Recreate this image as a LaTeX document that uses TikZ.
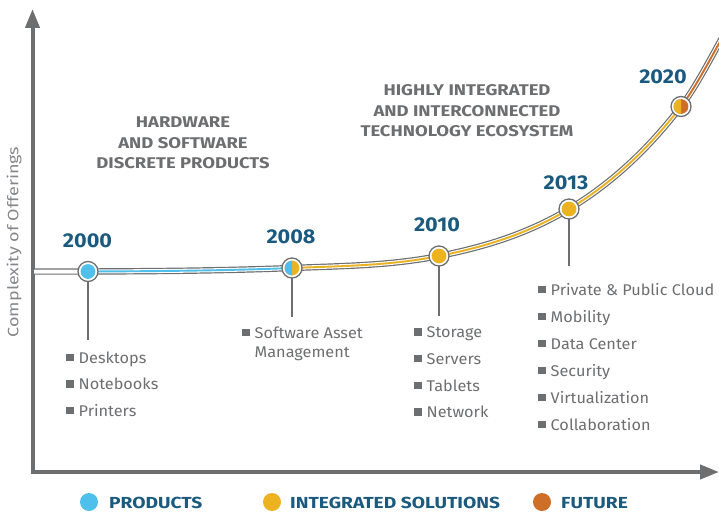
\documentclass[tikz,border=0pt]{standalone}
\usepackage{fontspec}
\setmainfont{Fira Sans}
\newfontfamily\itemfont[FakeStretch=1.05]{Fira Sans}
\newfontfamily\headfont[FakeStretch=1.19]{Fira Sans}
\newfontfamily\legfont[FakeStretch=1.2]{Fira Sans}
\newfontfamily\yearfont[FakeStretch=1.08]{Fira Sans}
\newfontfamily\ylabfont[FakeStretch=1.2]{Fira Sans}
\usetikzlibrary{arrows.meta}
\definecolor{lgray}{HTML}{6D6E70}
\definecolor{tgray}{HTML}{6D6E70}
\definecolor{ygray}{HTML}{858689}
\definecolor{dblue}{HTML}{1B5A7F}
\definecolor{pblue}{HTML}{4FC0EC}
\definecolor{iyel}{HTML}{ECB21F}
\definecolor{forange}{HTML}{CE6E27}
\newcommand\bsq{{\color{lgray}\raisebox{1.8pt}{\rule{7.5pt}{7.5pt}}}\hspace{5pt}}
\begin{document}
\begin{tikzpicture}[x=1pt,y=-1pt,
  axisline/.style={draw=lgray, line width=4pt, line join=miter,
     {Triangle[width=14pt,length=19pt]}-{Triangle[width=14pt,length=19pt]}},
  outer/.style={draw=lgray, line width=6.4pt},
  inner/.style={draw=white, line width=4pt},
  core/.style={line width=1.9pt},
  ringnode/.style={circle, draw=lgray, line width=1.3pt, fill=white, minimum size=20pt, inner sep=0pt},
  drop/.style={draw=lgray, line width=1.3pt},
  year/.style={font=\yearfont\fontsize{20}{20}\selectfont\bfseries, text=dblue, anchor=base, inner sep=0pt},
  head/.style={font=\headfont\fontsize{15.5}{20.3}\selectfont\bfseries, text=tgray, align=center, anchor=north, inner sep=0pt},
  item/.style={font=\itemfont\fontsize{15.5}{19.5}\selectfont, text=tgray, anchor=base west, inner sep=0pt, align=left},
  legdot/.style={circle, minimum size=18pt, inner sep=0pt},
  legtext/.style={font=\legfont\fontsize{16}{16}\selectfont\bfseries, text=dblue, anchor=base west, inner sep=0pt}
]
\useasboundingbox (0,0) rectangle (719,511);

% axes
\coordinate (ytop) at (32.5,9);
\coordinate (orig) at (32.5,472);
\coordinate (xend) at (719,472);
\draw[axisline] (ytop) -- (orig) -- (xend);
\node[rotate=90, font=\ylabfont\fontsize{15}{15}\selectfont, text=ygray, inner sep=0pt] (ylab) at (14,242) {Complexity of Offerings};

% curve points
\coordinate (c0) at (34,271.5);
\coordinate (p2000) at (88,271.5);
\coordinate (p2008) at (292,268);
\coordinate (p2010) at (439,256);
\coordinate (p2013) at (569,209);
\coordinate (p2020) at (681,106.5);
\coordinate (cend) at (722,38);

\foreach \st in {outer,inner}{
\draw[\st] (c0) -- (p2000)
  .. controls (156,271.2) and (224,270.7) .. (p2008)
  .. controls (341,266.0) and (390,265.8) .. (p2010)
  .. controls (482.3,247.3) and (525.7,235) .. (p2013)
  .. controls (606.3,186.6) and (643.7,155) .. (p2020)
  .. controls (694.7,88.7) and (708.3,62.6) .. (cend);
}
\draw[core, pblue] (p2000) .. controls (156,271.2) and (224,270.7) .. (p2008);
\draw[core, iyel] (p2008)
  .. controls (341,266.0) and (390,265.8) .. (p2010)
  .. controls (482.3,247.3) and (525.7,235) .. (p2013)
  .. controls (606.3,186.6) and (643.7,155) .. (p2020);
\draw[core, forange] (p2020) .. controls (694.7,88.7) and (708.3,62.6) .. (cend);

% drop lines
\coordinate (d2000) at (88,340);
\coordinate (d2008) at (292,317);
\coordinate (d2010) at (439,316);
\coordinate (d2013) at (569,266);
\draw[drop] (p2000) -- (d2000);
\draw[drop] (p2008) -- (d2008);
\draw[drop] (p2010) -- (d2010);
\draw[drop] (p2013) -- (d2013);

% milestone nodes
\node[ringnode] (n2000) at (p2000) {};
\node[ringnode] (n2008) at (p2008) {};
\node[ringnode] (n2010) at (p2010) {};
\node[ringnode] (n2013) at (p2013) {};
\node[ringnode] (n2020) at (p2020) {};
\fill[pblue] (n2000.center) circle (7.4);
\fill[iyel] (n2008.center) circle (7.4);
\fill[pblue] (n2008.center) ++(0,7.4) arc[start angle=90,end angle=270,radius=7.4] -- cycle;
\fill[iyel] (n2010.center) circle (7.4);
\fill[iyel] (n2013.center) circle (7.4);
\fill[forange] (n2020.center) circle (7.4);
\fill[iyel] (n2020.center) ++(0,7.4) arc[start angle=90,end angle=270,radius=7.4] -- cycle;

% years
\node[year] (y2000) at (87.5,247) {2000};
\node[year] (y2008) at (291,243.5) {2008};
\node[year] (y2010) at (437,231) {2010};
\node[year] (y2013) at (566,189) {2013};
\node[year] (y2020) at (663,83.5) {2020};

% headings
\node[head] (h1) at (183,117) {HARDWARE\\AND SOFTWARE\\DISCRETE PRODUCTS};
\node[head] (h2) at (467,84.5) {HIGHLY INTEGRATED\\AND INTERCONNECTED\\TECHNOLOGY ECOSYSTEM};

% lists
\node[item] (a1) at (66,363) {\bsq Desktops};
\node[item] (a2) at (66,389.5) {\bsq Notebooks};
\node[item] (a3) at (66,416) {\bsq Printers};

\node[item] (b1) at (242,357.7) {\bsq Software Asset\\\hspace{12.5pt}Management};

\node[item] (c1) at (414,337.5) {\bsq Storage};
\node[item] (c2) at (414,364) {\bsq Servers};
\node[item] (c3) at (414,391) {\bsq Tablets};
\node[item] (c4) at (414,417.5) {\bsq Network};

\node[item] (e1) at (538,295) {\bsq Private \& Public Cloud};
\node[item] (e2) at (538,322) {\bsq Mobility};
\node[item] (e3) at (538,349) {\bsq Data Center};
\node[item] (e4) at (538,376) {\bsq Security};
\node[item] (e5) at (538,403) {\bsq Virtualization};
\node[item] (e6) at (538,430) {\bsq Collaboration};

% legend
\node[legdot, fill=pblue] (l1) at (89,502) {};
\node[legtext] (lt1) at (109,508) {PRODUCTS};
\node[legdot, fill=iyel] (l2) at (272,502) {};
\node[legtext] (lt2) at (290,508) {INTEGRATED SOLUTIONS};
\node[legdot, fill=forange] (l3) at (542,502) {};
\node[legtext] (lt3) at (561,508) {FUTURE};
\end{tikzpicture}
\end{document}
